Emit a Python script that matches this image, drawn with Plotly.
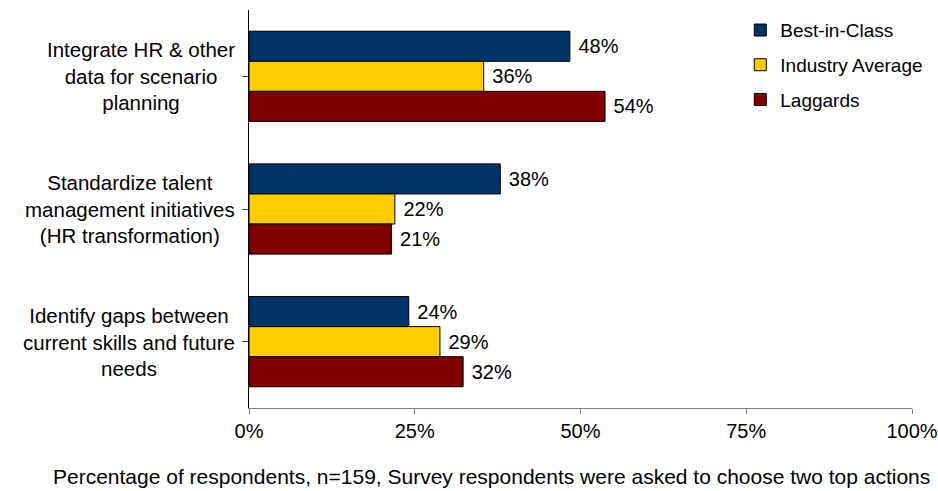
import plotly.graph_objects as go

categories = [
    "Integrate HR & other<br>data for scenario<br>planning",
    "Standardize talent<br>management initiatives<br>(HR transformation)",
    "Identify gaps between<br>current skills and future<br>needs",
]
series_names = ["Best-in-Class", "Industry Average", "Laggards"]
best_in_class = [48.4, 37.9, 24.1]
industry_average = [35.4, 22.0, 28.8]
laggards = [53.7, 21.5, 32.3]
best_labels = ["48%", "38%", "24%"]
industry_labels = ["36%", "22%", "29%"]
laggard_labels = ["54%", "21%", "32%"]
colors = ["#003366", "#FFCC00", "#800000"]
x_ticks = [0, 25, 50, 75, 100]
x_tick_labels = ["0%", "25%", "50%", "75%", "100%"]
x_title = "Percentage of respondents, n=159, Survey respondents were asked to choose two top actions"

FONT = "Liberation Sans, Arial, sans-serif"
keys = list(range(len(categories)))

fig = go.Figure()
for name, vals, labels, col in zip(series_names,
                                   [best_in_class, industry_average, laggards],
                                   [best_labels, industry_labels, laggard_labels],
                                   colors):
    fig.add_trace(go.Bar(
        y=keys, x=vals, name=name, orientation="h",
        marker=dict(color=col, line=dict(color="#000000", width=1)),
        text=[" " + t for t in labels], textposition="outside",
        textfont=dict(family=FONT, size=20, color="#000000"),
        constraintext="none", cliponaxis=False,
        legendgroup=name, hoverinfo="skip",
    ))

for k, cat in zip(keys, categories):
    fig.add_annotation(
        x=-0.018, xref="paper", y=k, yref="y",
        text=cat, showarrow=False, xanchor="right", align="center",
        font=dict(family=FONT, size=20.5, color="#000000"),
    )

fig.add_annotation(
    x=(491 - 249) / 663, xref="paper", y=(408 - 476) / 398, yref="paper",
    text=x_title, showarrow=False, xanchor="center", yanchor="middle",
    font=dict(family=FONT, size=21, color="#000000"),
)

fig.update_layout(
    width=938, height=491,
    margin=dict(l=249, r=26, t=10, b=83, autoexpand=False),
    paper_bgcolor="#FFFFFF", plot_bgcolor="#FFFFFF",
    barmode="group", bargap=0.32, bargroupgap=0,
    font=dict(family=FONT, size=20, color="#000000"),
    showlegend=True,
    legend=dict(
        x=0.741, xanchor="left", y=0.997, yanchor="top",
        font=dict(family=FONT, size=19, color="#000000"),
        tracegroupgap=7, bgcolor="rgba(0,0,0,0)",
        traceorder="grouped",
    ),
    xaxis=dict(
        range=[0, 100], tickvals=x_ticks, ticktext=x_tick_labels,
        showgrid=False, zeroline=False, automargin=False,
        showline=True, linecolor="#808080", linewidth=1,
        ticks="outside", ticklen=5, tickcolor="#808080",
        tickfont=dict(family=FONT, size=20, color="#000000"),
        fixedrange=True,
    ),
    yaxis=dict(
        range=[2.5, -0.5], tickvals=keys, ticktext=["", "", ""],
        tickson="boundaries", type="linear", automargin=False,
        showgrid=False, zeroline=False,
        showline=True, linecolor="#000000", linewidth=1,
        ticks="outside", ticklen=6, tickcolor="#404040",
        showticklabels=False, fixedrange=True,
    ),
)

fig.write_html("out.html")
